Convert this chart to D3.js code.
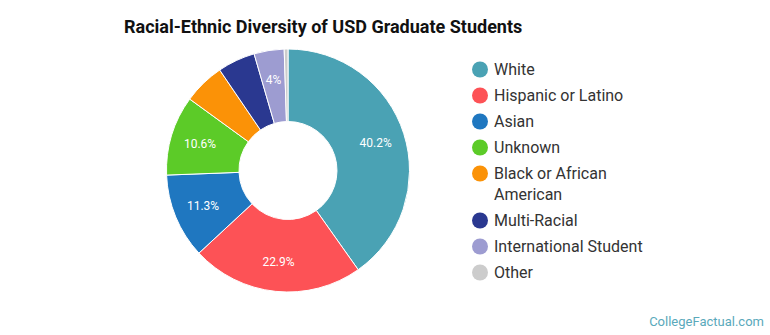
<!doctype html>
<html>
<head>
    <script src="https://d3js.org/d3.v7.min.js"></script>
    <style>
        body { margin: 0; background: #fff; }
        text { font-family: Roboto, "Open Sans", sans-serif; }
    </style>
</head>
<body>
    <svg width="770" height="335"></svg>
    <script>
        var categories = ["White", "Hispanic or Latino", "Asian", "Unknown", "Black or African American", "Multi-Racial", "International Student", "Other"];
        var values = [40.2, 22.9, 11.3, 10.6, 5.5, 5.0, 4.0, 0.5];
        var labels = ["40.2%", "22.9%", "11.3%", "10.6%", "", "", "4%", ""];
        var legendLines = [["White"], ["Hispanic or Latino"], ["Asian"], ["Unknown"], ["Black or African", "American"], ["Multi-Racial"], ["International Student"], ["Other"]];
        var colors = ["#4aa2b4", "#fd5256", "#1f77c0", "#5ccb28", "#fb9207", "#2a3890", "#9d9cd1", "#cccccc"];

        var svg = d3.select("svg");

        svg.append("text")
            .attr("x", 124)
            .attr("y", 33)
            .attr("font-size", "18px")
            .attr("font-weight", "bold")
            .attr("fill", "#111")
            .text("Racial-Ethnic Diversity of USD Graduate Students");

        var cx = 288, cy = 170.5, outer = 121.5, inner = 49;
        var color = d3.scaleOrdinal().domain(categories).range(colors);

        var pie = d3.pie().sort(null).value(function(d, i) { return values[i]; });
        var arcs = pie(categories);
        var arc = d3.arc().innerRadius(inner).outerRadius(outer);
        var labelArc = d3.arc().innerRadius(92).outerRadius(92);

        var g = svg.append("g").attr("transform", "translate(" + cx + "," + cy + ")");

        g.selectAll("path")
            .data(arcs)
            .enter().append("path")
            .attr("d", arc)
            .attr("fill", function(d) { return color(d.data); })
            .attr("stroke", "#fff")
            .attr("stroke-width", 1);

        g.selectAll(".lbl")
            .data(arcs)
            .enter().append("text")
            .attr("class", "lbl")
            .attr("transform", function(d) { return "translate(" + labelArc.centroid(d) + ")"; })
            .attr("text-anchor", "middle")
            .attr("dy", "0.35em")
            .attr("font-size", "12px")
            .attr("fill", "#fff")
            .text(function(d, i) { return labels[i]; });

        // legend
        var ly = 69.5;
        var legend = svg.append("g");
        categories.forEach(function(c, i) {
            legend.append("circle")
                .attr("cx", 480)
                .attr("cy", ly)
                .attr("r", 8)
                .attr("fill", color(c));
            var t = legend.append("text")
                .attr("x", 494)
                .attr("y", ly)
                .attr("font-size", "16px")
                .attr("fill", "#333");
            legendLines[i].forEach(function(line, j) {
                t.append("tspan")
                    .attr("x", 494)
                    .attr("dy", j === 0 ? "0.35em" : "21px")
                    .text(line);
            });
            ly += 26 + (legendLines[i].length - 1) * 21;
        });

        svg.append("text")
            .attr("x", 764)
            .attr("y", 326)
            .attr("text-anchor", "end")
            .attr("font-size", "13px")
            .attr("fill", "#5aa9bb")
            .text("CollegeFactual.com");
    </script>
</body>
</html>
